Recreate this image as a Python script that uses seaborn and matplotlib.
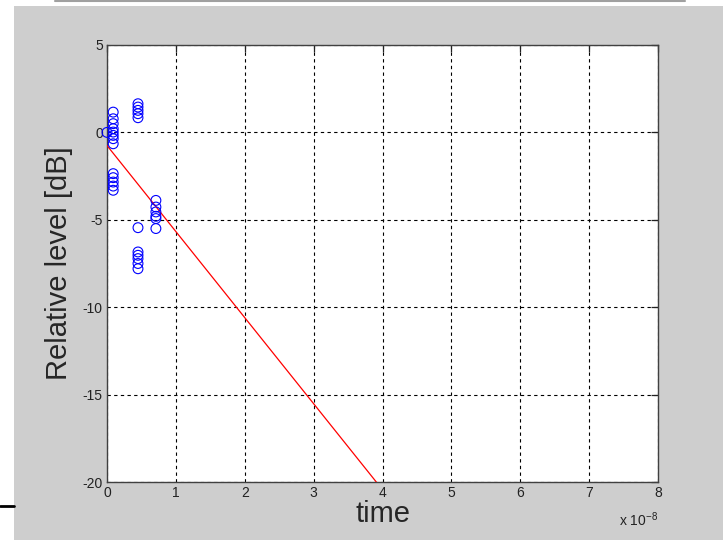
import matplotlib
matplotlib.use('Agg')
import matplotlib.pyplot as plt
import seaborn as sns
import pandas as pd
from matplotlib.patches import Rectangle
from matplotlib.lines import Line2D

# echo levels, time axis in units of 1e-8 s
time_a = [0.0]
level_a = [0.0]
time_b = [0.09] * 13
level_b = [1.16, 0.78, 0.50, 0.21, 0.02, -0.17, -0.36, -0.65,
           -2.36, -2.59, -2.84, -3.07, -3.31]
time_c = [0.45] * 11
level_c = [1.64, 1.45, 1.26, 1.07, 0.84, -5.45, -6.84, -7.03, -7.22, -7.5, -7.8]
time_d = [0.71] * 6
level_d = [-3.89, -4.27, -4.55, -4.8, -4.93, -5.5]

# fitted decay line
fit_time = [0.0, 3.91]
fit_level = [-0.75, -20.0]

x_ticks = [0, 1, 2, 3, 4, 5, 6, 7, 8]
y_ticks = [-20, -15, -10, -5, 0, 5]

sns.set_style('white')
plt.rcParams['font.family'] = ['Liberation Sans', 'DejaVu Sans']
plt.rcParams['mathtext.default'] = 'regular'
plt.rcParams['axes.unicode_minus'] = False

echo_df = pd.DataFrame({
    'time': time_a + time_b + time_c + time_d,
    'level': level_a + level_b + level_c + level_d,
})
fit_df = pd.DataFrame({'time': fit_time, 'level': fit_level})

W, H = 723, 540
fig = plt.figure(figsize=(W / 100, H / 100), dpi=100)
fig.patch.set_facecolor('white')
# matlab-style grey figure window
fig.add_artist(Rectangle((14 / W, 0), 1, (H - 6) / H, transform=fig.transFigure,
                         facecolor='#cecece', edgecolor='none', zorder=0))
fig.add_artist(Line2D([55 / W, 685 / W], [1 - 1 / H, 1 - 1 / H], transform=fig.transFigure,
                      color='#a0a0a0', lw=1.5))
fig.add_artist(Line2D([0, 14 / W], [1 - 506 / H, 1 - 506 / H], transform=fig.transFigure,
                      color='black', lw=2))

ax = fig.add_axes([107 / W, 58 / H, 551 / W, 437 / H])
ax.set_facecolor('white')

sns.lineplot(data=fit_df, x='time', y='level', ax=ax, color='red', lw=0.9, zorder=3)
sns.scatterplot(data=echo_df, x='time', y='level', ax=ax, marker='o', s=50,
                facecolor='none', edgecolor='blue', linewidth=0.8, clip_on=False, zorder=4)

ax.set_xlim(0, 8)
ax.set_ylim(-20, 5)
ax.set_xticks(x_ticks)
ax.set_yticks(y_ticks)
ax.grid(True, color='black', linestyle=(0, (3, 3)), lw=0.8)
ax.tick_params(direction='in', length=5, width=0.9, top=True, right=True,
               labelsize=10, colors='#222222', pad=3)
for s in ax.spines.values():
    s.set_color('#404040')
    s.set_linewidth(1.0)
    s.set_visible(True)

ax.set_xlabel('time', fontsize=21)
ax.set_ylabel('Relative level [dB]', fontsize=21)
ax.xaxis.set_label_coords(0.5, -0.042)
ax.yaxis.set_label_coords(-0.062, 0.5)

fig.text(619 / W, 1 - 526 / H, r'x $10^{-8}$', fontsize=10, color='#222222', va='baseline')

fig.savefig('out.png', dpi=100)
